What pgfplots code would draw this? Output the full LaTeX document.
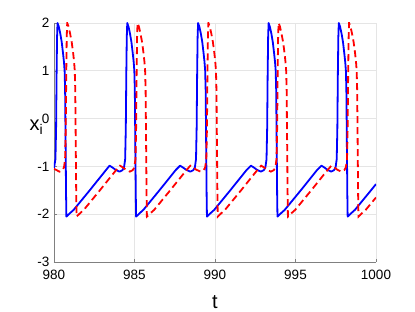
\documentclass[border=0pt]{standalone}
\usepackage{fontspec}
\setmainfont{Liberation Sans}
\usepackage{pgfplots}
\pgfplotsset{compat=1.18}
\begin{document}
\begin{tikzpicture}
\path[use as bounding box] (-54pt,-50pt) rectangle (361pt,262pt);
\begin{axis}[
 at={(0pt,0pt)}, anchor=south west,
 width=322pt, height=239pt, scale only axis,
 xmin=980, xmax=1000, ymin=-3, ymax=2,
 xtick={980,985,990,995,1000}, ytick={-3,-2,-1,0,1,2},
 axis lines*=left,
 axis line style={black!50, line width=0.6pt},
 grid=major, major grid style={black!10, line width=0.6pt},
 tick style={black!50},
 tick align=inside, major tick length=3pt,
 ticklabel style={font=\fontsize{13.5}{16}\selectfont},
 xticklabel style={yshift=-5pt},
 yticklabel style={xshift=-1pt},
 /pgf/number format/assume math mode=true,
 /pgf/number format/set thousands separator={},
 xlabel={t}, ylabel={x\textsubscript{i}},
 label style={font=\fontsize{20}{24}\selectfont},
 xlabel style={at={(axis description cs:0.5,0)}, anchor=base, yshift=-47pt},
 ylabel style={rotate=-90, at={(axis description cs:0,0)}, anchor=base west, xshift=-28pt, yshift=131pt},
]
\addplot[blue, line width=1.8pt, line join=round] coordinates {
(980.00,-1.03) (980.09,-0.85) (980.13,-0.2) (980.16,0.9) (980.19,1.7) (980.22,2.0)
(980.30,1.92) (980.39,1.78) (980.48,1.60) (980.56,1.37) (980.62,1.18) (980.66,1.00)
(980.69,0.6) (980.72,-0.5) (980.75,-1.6) (980.77,-2.05) (981.02,-1.97) (981.22,-1.91)
(982.22,-1.50) (983.22,-1.08) (983.45,-0.985) (983.62,-1.02) (983.82,-1.07) (984.07,-1.11)
(984.25,-1.08) (984.35,-1.02) (984.42,-0.85) (984.46,-0.2) (984.49,0.9) (984.52,1.7) (984.55,2.0)
(984.63,1.92) (984.72,1.78) (984.81,1.60) (984.89,1.37) (984.95,1.18) (984.99,1.00)
(985.02,0.6) (985.05,-0.5) (985.08,-1.6) (985.10,-2.05) (985.35,-1.97) (985.55,-1.91)
(986.55,-1.50) (987.55,-1.08) (987.83,-0.985) (988.00,-1.02) (988.20,-1.07) (988.47,-1.11)
(988.65,-1.08) (988.75,-1.02) (988.82,-0.85) (988.86,-0.2) (988.89,0.9) (988.92,1.7) (988.95,2.0)
(989.03,1.92) (989.12,1.78) (989.21,1.60) (989.29,1.37) (989.35,1.18) (989.39,1.00)
(989.42,0.6) (989.45,-0.5) (989.48,-1.6) (989.50,-2.05) (989.75,-1.97) (989.95,-1.91)
(990.95,-1.50) (991.95,-1.08) (992.23,-0.985) (992.40,-1.02) (992.60,-1.07) (992.85,-1.11)
(993.03,-1.08) (993.13,-1.02) (993.20,-0.85) (993.24,-0.2) (993.27,0.9) (993.30,1.7) (993.33,2.0)
(993.41,1.92) (993.50,1.78) (993.59,1.60) (993.67,1.37) (993.73,1.18) (993.77,1.00)
(993.80,0.6) (993.83,-0.5) (993.86,-1.6) (993.88,-2.05) (994.13,-1.97) (994.33,-1.91)
(995.33,-1.50) (996.33,-1.08) (996.61,-0.985) (996.78,-1.02) (996.98,-1.07) (997.21,-1.11)
(997.39,-1.08) (997.49,-1.02) (997.56,-0.85) (997.60,-0.2) (997.63,0.9) (997.66,1.7) (997.69,2.0)
(997.77,1.92) (997.86,1.78) (997.95,1.60) (998.03,1.37) (998.09,1.18) (998.13,1.00)
(998.16,0.6) (998.19,-0.5) (998.22,-1.6) (998.24,-2.05) (998.49,-1.97) (998.69,-1.91)
(999.69,-1.50) (1000.00,-1.37)
};
\addplot[red, line width=1.8pt, dash pattern=on 7pt off 4pt] coordinates {
(980.00,-1.05) (980.34,-1.11) (980.52,-1.08) (980.62,-1.02) (980.69,-0.85) (980.73,-0.2)
(980.76,0.9) (980.79,1.7) (980.82,2.0) (980.90,1.93) (981.00,1.78) (981.10,1.60)
(981.19,1.37) (981.25,1.18) (981.29,1.00) (981.32,0.6) (981.35,-0.5) (981.38,-1.6)
(981.40,-2.05) (981.65,-1.97) (981.85,-1.91) (982.85,-1.50) (983.85,-1.08) (984.10,-0.985)
(984.27,-1.02) (984.47,-1.07) (984.71,-1.11)
(984.89,-1.08) (984.99,-1.02) (985.06,-0.85) (985.10,-0.2) (985.13,0.9) (985.16,1.7) (985.19,2.0)
(985.27,1.93) (985.37,1.78) (985.47,1.60) (985.56,1.37) (985.62,1.18) (985.66,1.00)
(985.69,0.6) (985.72,-0.5) (985.75,-1.6) (985.77,-2.05) (986.02,-1.97) (986.22,-1.91)
(987.22,-1.50) (988.22,-1.08) (988.47,-0.985) (988.64,-1.02) (988.84,-1.07) (989.11,-1.11)
(989.29,-1.08) (989.39,-1.02) (989.46,-0.85) (989.50,-0.2) (989.53,0.9) (989.56,1.7) (989.59,2.0)
(989.67,1.93) (989.77,1.78) (989.87,1.60) (989.96,1.37) (990.02,1.18) (990.06,1.00)
(990.09,0.6) (990.12,-0.5) (990.15,-1.6) (990.17,-2.05) (990.42,-1.97) (990.62,-1.91)
(991.62,-1.50) (992.62,-1.08) (992.87,-0.985) (993.04,-1.02) (993.24,-1.07) (993.47,-1.11)
(993.65,-1.08) (993.75,-1.02) (993.82,-0.85) (993.86,-0.2) (993.89,0.9) (993.92,1.7) (993.95,2.0)
(994.03,1.93) (994.13,1.78) (994.23,1.60) (994.32,1.37) (994.38,1.18) (994.42,1.00)
(994.45,0.6) (994.48,-0.5) (994.51,-1.6) (994.53,-2.05) (994.78,-1.97) (994.98,-1.91)
(995.98,-1.50) (996.98,-1.08) (997.23,-0.985) (997.40,-1.02) (997.60,-1.07) (997.85,-1.11)
(998.03,-1.08) (998.13,-1.02) (998.20,-0.85) (998.24,-0.2) (998.27,0.9) (998.30,1.7) (998.33,2.0)
(998.41,1.93) (998.51,1.78) (998.61,1.60) (998.70,1.37) (998.76,1.18) (998.80,1.00)
(998.83,0.6) (998.86,-0.5) (998.89,-1.6) (998.91,-2.05) (999.16,-1.97) (999.36,-1.91)
(1000.00,-1.65)
};
\end{axis}
\end{tikzpicture}
\end{document}
